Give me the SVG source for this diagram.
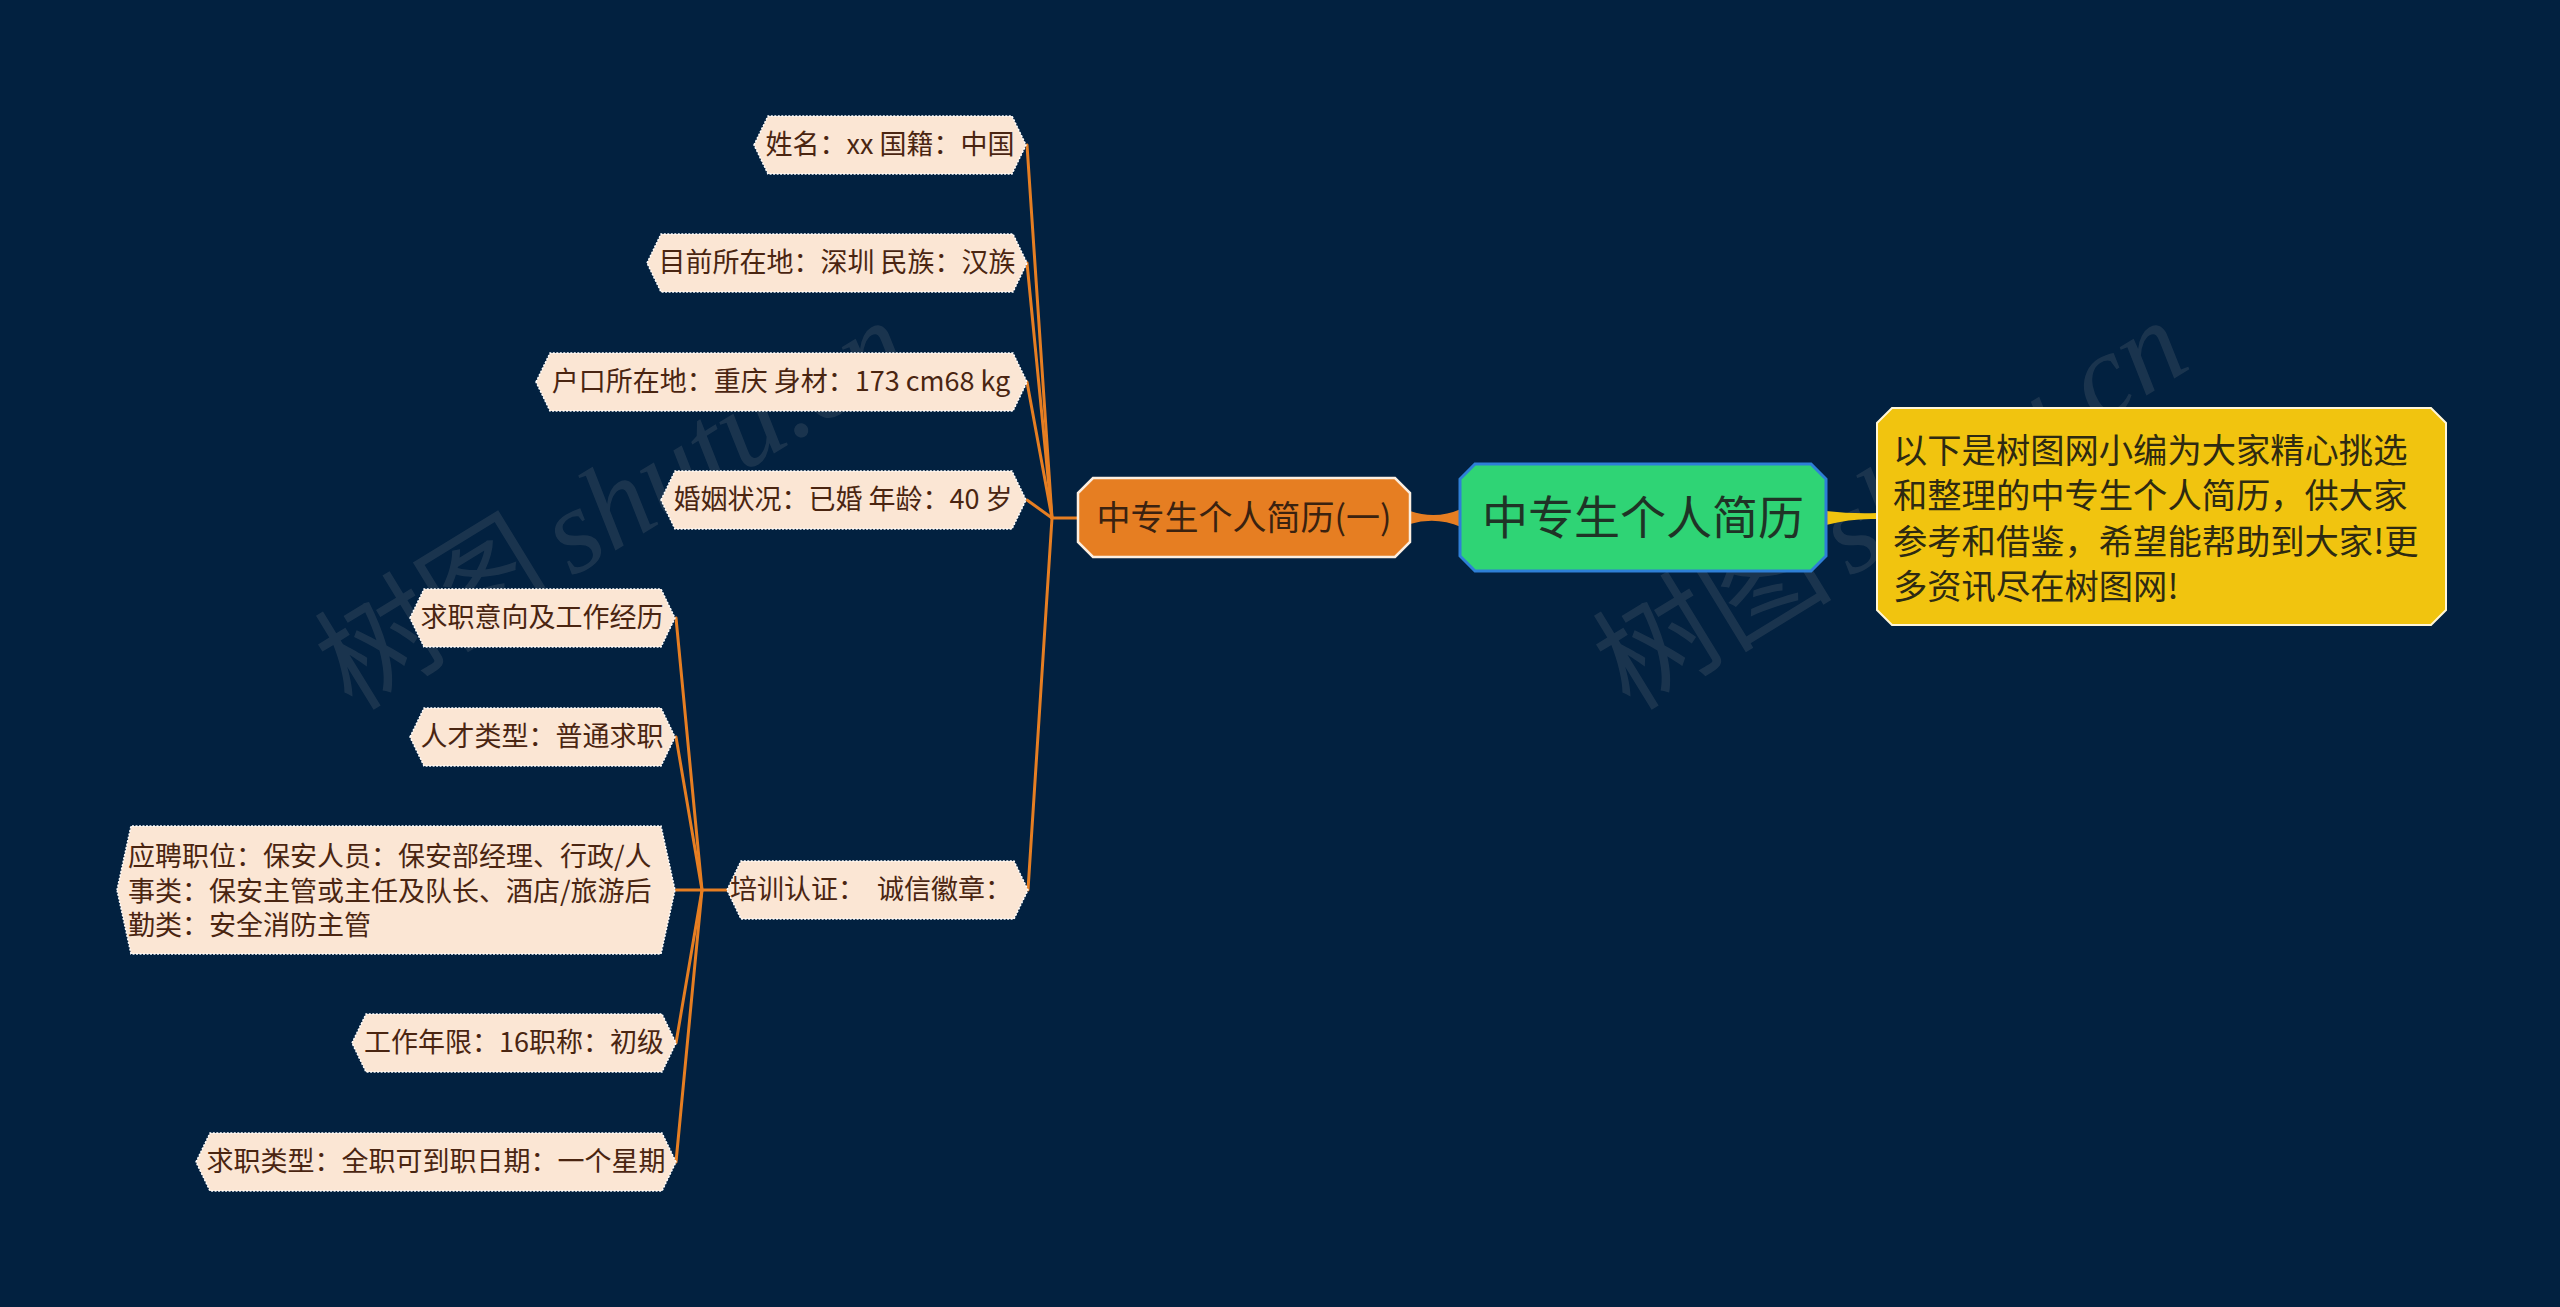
<svg xmlns="http://www.w3.org/2000/svg" width="2560" height="1307" viewBox="0 0 2560 1307">
<style>
.leaf{fill:#fbe6d4;stroke:#ffffff;stroke-width:1.5;stroke-dasharray:2 1.5}
.lt{font-family:"Noto Sans CJK SC","Noto Sans",sans-serif;font-size:27px;fill:#4a2511}
.mid{text-anchor:middle}
.conn{fill:none;stroke:#e67e22;stroke-width:3;stroke-linecap:round}
.wm{font-size:120px;fill:#9a9a9a;opacity:0.16}
</style>
<rect width="2560" height="1307" fill="#022140"/>

<g id="watermarks">
<text class="wm" transform="translate(352,712) rotate(-31.5)"><tspan font-family="Noto Sans CJK SC,sans-serif">树图</tspan><tspan font-family="Liberation Serif,serif" font-style="italic" dx="18">shutu.cn</tspan></text>
<text class="wm" transform="translate(1630,712) rotate(-31.5)"><tspan font-family="Noto Sans CJK SC,sans-serif">树图</tspan><tspan font-family="Liberation Serif,serif" font-style="italic" dx="18">shutu.cn</tspan></text>
</g>

<g id="connectors">
<path d="M1410 511 Q1436 520 1461 509 L1461 527 Q1436 516 1410 524 Z" fill="#e67e22"/>
<path d="M1826 511 Q1852 514 1877 513 L1877 519 Q1852 518 1826 525 Z" fill="#f1c40f"/>
<line class="conn" x1="1052" y1="518" x2="1077" y2="518"/>
<line class="conn" x1="1052" y1="518" x2="1027" y2="145"/>
<line class="conn" x1="1052" y1="518" x2="1027" y2="263"/>
<line class="conn" x1="1052" y1="518" x2="1027" y2="382"/>
<line class="conn" x1="1052" y1="518" x2="1027" y2="500"/>
<line class="conn" x1="1052" y1="518" x2="1028" y2="890"/>
<line class="conn" x1="702" y1="890" x2="727" y2="890"/>
<line class="conn" x1="702" y1="890" x2="676" y2="618"/>
<line class="conn" x1="702" y1="890" x2="676" y2="737"/>
<line class="conn" x1="702" y1="890" x2="676" y2="890"/>
<line class="conn" x1="702" y1="890" x2="676" y2="1043"/>
<line class="conn" x1="702" y1="890" x2="676" y2="1162"/>
</g>

<g id="root">
<path d="M1475 464 L1811 464 L1826 479 L1826 556 L1811 571 L1475 571 L1460 556 L1460 479 Z" fill="#2fd475" stroke="#2e7fd6" stroke-width="3"/>
<text x="1643" y="534" text-anchor="middle" font-family="Noto Sans CJK SC,sans-serif" font-size="46" fill="#1f3326">中专生个人简历</text>
</g>

<g id="summary">
<path d="M1892 408 L2431 408 L2446 423 L2446 610 L2431 625 L1892 625 L1877 610 L1877 423 Z" fill="#f1c40f" stroke="#fff6d8" stroke-width="2"/>
<text font-family="Noto Sans CJK SC,sans-serif" font-size="34.3" fill="#2e2a12">
<tspan x="1893" y="463">以下是树图网小编为大家精心挑选</tspan>
<tspan x="1893" y="508">和整理的中专生个人简历，供大家</tspan>
<tspan x="1893" y="554">参考和借鉴，希望能帮助到大家!更</tspan>
<tspan x="1893" y="599">多资讯尽在树图网!</tspan>
</text>
</g>

<g id="branch">
<path d="M1093 478 L1395 478 L1410 493 L1410 542 L1395 557 L1093 557 L1078 542 L1078 493 Z" fill="#e67e22" stroke="#fbeee0" stroke-width="2.5"/>
<text x="1244" y="530" text-anchor="middle" font-family="Noto Sans CJK SC,sans-serif" font-size="34" fill="#3a2210">中专生个人简历(一)</text>
</g>

<g id="n1">
<path class="leaf" d="M754 145 L768 116 L1012 116 L1026 145 L1012 174 L768 174 Z"/>
<text class="lt mid" x="890" y="154">姓名：xx 国籍：中国</text>
</g>
<g id="n2">
<path class="leaf" d="M647 263 L661 234 L1013 234 L1027 263 L1013 292 L661 292 Z"/>
<text class="lt mid" x="837" y="272">目前所在地：深圳 民族：汉族</text>
</g>
<g id="n3">
<path class="leaf" d="M536 382 L550 353 L1013 353 L1027 382 L1013 411 L550 411 Z"/>
<text class="lt mid" x="781" y="391">户口所在地：重庆 身材：173 cm68 kg</text>
</g>
<g id="n4">
<path class="leaf" d="M661 500 L675 471 L1012 471 L1026 500 L1012 529 L675 529 Z"/>
<text class="lt mid" x="843" y="509">婚姻状况：已婚 年龄：40 岁</text>
</g>
<g id="n5">
<path class="leaf" d="M727 890 L741 861 L1014 861 L1028 890 L1014 919 L741 919 Z"/>
<text class="lt mid" x="871" y="899" xml:space="preserve">培训认证：  诚信徽章：</text>
</g>

<g id="c1">
<path class="leaf" d="M410 618 L424 589 L661 589 L675 618 L661 647 L424 647 Z"/>
<text class="lt mid" x="542" y="627">求职意向及工作经历</text>
</g>
<g id="c2">
<path class="leaf" d="M410 737 L424 708 L661 708 L675 737 L661 766 L424 766 Z"/>
<text class="lt mid" x="542" y="746">人才类型：普通求职</text>
</g>
<g id="c3">
<path class="leaf" d="M117 890 L131 826 L661 826 L675 890 L661 954 L131 954 Z"/>
<text class="lt">
<tspan x="128" y="866">应聘职位：保安人员：保安部经理、行政/人</tspan>
<tspan x="128" y="901">事类：保安主管或主任及队长、酒店/旅游后</tspan>
<tspan x="128" y="935">勤类：安全消防主管</tspan>
</text>
</g>
<g id="c4">
<path class="leaf" d="M352 1043 L366 1014 L662 1014 L676 1043 L662 1072 L366 1072 Z"/>
<text class="lt mid" x="514" y="1052">工作年限：16职称：初级</text>
</g>
<g id="c5">
<path class="leaf" d="M196 1162 L210 1133 L662 1133 L676 1162 L662 1191 L210 1191 Z"/>
<text class="lt mid" x="436" y="1171">求职类型：全职可到职日期：一个星期</text>
</g>
</svg>
